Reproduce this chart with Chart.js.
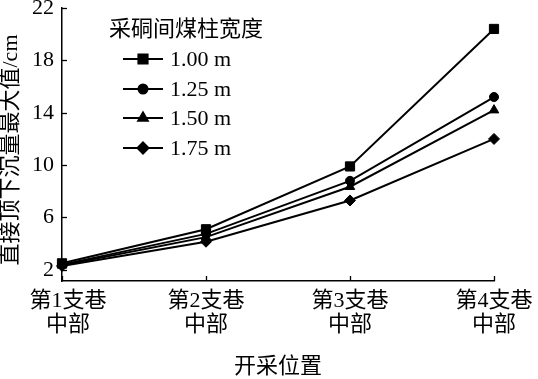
<!DOCTYPE html>
<html><head><meta charset="utf-8">
<script src="https://cdn.jsdelivr.net/npm/chart.js@4.4.1/dist/chart.umd.min.js"></script>
<style>html,body{margin:0;padding:0;background:#fff}#wrap{width:538px;height:379px}</style>
</head><body><div id="wrap"><canvas id="c" width="538" height="379"></canvas></div>
<script>
const categories = [['第1支巷','中部'],['第2支巷','中部'],['第3支巷','中部'],['第4支巷','中部']];
const yTicks = [2, 6, 10, 14, 18, 22];
const seriesLabels = ['1.00 m', '1.25 m', '1.50 m', '1.75 m'];
const w100 = [2.5, 5.1, 9.9, 20.4];
const w125 = [2.4, 4.75, 8.8, 15.2];
const w150 = [2.35, 4.5, 8.35, 14.2];
const w175 = [2.3, 4.15, 7.3, 12.0];
const legendTitle = '采硐间煤柱宽度';
const xTitle = '开采位置';
const yTitle = '直接顶下沉量最大值/cm';

const FONT = '"Liberation Serif", "Noto Sans CJK SC", serif';
const styles = [
  {pointStyle:'rect', pointRadius:6.5},
  {pointStyle:'circle', pointRadius:4.5},
  {pointStyle:'triangle', pointRadius:5.5},
  {pointStyle:'rectRot', pointRadius:5.5}
];
const dataSets = [w100, w125, w150, w175];

const textPlugin = {
  id: 'customText',
  afterDraw(chart) {
    const ctx = chart.ctx, xs = chart.scales.x, ys = chart.scales.y, a = chart.chartArea;
    ctx.save();
    ctx.strokeStyle = '#000'; ctx.lineWidth = 1.3;
    ys.ticks.forEach(t => {
      const y = Math.round(ys.getPixelForValue(t.value)) + 0.5;
      ctx.beginPath(); ctx.moveTo(a.left, y); ctx.lineTo(a.left + 5, y); ctx.stroke();
    });
    ctx.fillStyle = '#000';
    ctx.font = '22px ' + FONT;
    ctx.textBaseline = 'middle';
    ctx.textAlign = 'center';
    categories.forEach((c, i) => {
      const xp = xs.getPixelForValue(i);
      const x = Math.round(xp) + 0.5;
      ctx.beginPath(); ctx.moveTo(x, a.bottom); ctx.lineTo(x, a.bottom - 5); ctx.stroke();
      const lx = i === 0 ? xp + 6 : xp;
      c.forEach((line, j) => ctx.fillText(line, lx, a.bottom + 20 + j * 24));
    });
    // axis titles
    ctx.fillText(xTitle, (a.left + a.right) / 2, 367);
    ctx.save();
    ctx.translate(11, 150);
    ctx.rotate(-Math.PI / 2);
    ctx.fillText(yTitle, 0, 0);
    ctx.restore();
    // legend
    const lx0 = 123, lx1 = 163, tx = 170, rows = [59, 89, 118, 148];
    ctx.textAlign = 'left';
    ctx.fillText(legendTitle, 109, 30);
    chart.data.datasets.forEach((ds, i) => {
      const y = rows[i];
      ctx.lineWidth = 2; ctx.strokeStyle = '#000';
      ctx.beginPath(); ctx.moveTo(lx0, y); ctx.lineTo(lx1, y); ctx.stroke();
      Chart.helpers.drawPoint(ctx, {pointStyle: ds.pointStyle, radius: ds.pointRadius, borderWidth: 1, rotation: 0}, (lx0 + lx1) / 2, y);
      ctx.fillStyle = '#000';
      ctx.fill();
      ctx.fillText(ds.label, tx, y + 1);
    });
    ctx.restore();
  }
};

new Chart(document.getElementById('c'), {
  type: 'line',
  data: {
    labels: categories,
    datasets: dataSets.map((d, i) => ({
      label: seriesLabels[i], data: d,
      borderColor: '#000', backgroundColor: '#000', borderWidth: 2,
      pointStyle: styles[i].pointStyle, pointRadius: styles[i].pointRadius,
      pointBorderWidth: 1, pointBackgroundColor: '#000', pointBorderColor: '#000',
      tension: 0, clip: false
    }))
  },
  options: {
    responsive: false, animation: false, devicePixelRatio: 1,
    layout: {padding: {top: 8, right: 44, left: 0, bottom: 0}},
    plugins: {legend: {display: false}, tooltip: {enabled: false}},
    scales: {
      x: {
        type: 'category', offset: false,
        grid: {display: false, drawTicks: false},
        border: {display: true, color: '#000', width: 1.5},
        ticks: {display: false},
        afterFit(s) { s.height = 98; s.paddingLeft = 0; s.paddingRight = 0; }
      },
      y: {
        min: 1.15, max: 22,
        grid: {display: false, drawTicks: false},
        border: {display: true, color: '#000', width: 1.5},
        ticks: {color: '#000', font: {family: FONT, size: 22, lineHeight: 1.0}, padding: 8},
        afterBuildTicks(s) { s.ticks = yTicks.map(v => ({value: v})); },
        afterFit(s) { s.width = 62; s.paddingTop = 0; s.paddingBottom = 0; }
      }
    }
  },
  plugins: [textPlugin]
});
</script></body></html>
